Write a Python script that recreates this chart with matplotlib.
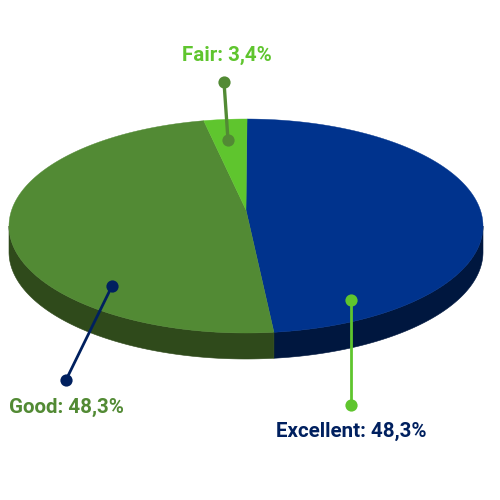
import numpy as np
import matplotlib
matplotlib.use("Agg")
import matplotlib.pyplot as plt

# data
categories = ["Excellent", "Good", "Fair"]
values = [48.3, 48.3, 3.4]
value_labels = ["48,3%", "48,3%", "3,4%"]

# styles
top_colors = {"Excellent": "#00338D", "Good": "#528A34", "Fair": "#5FC52E"}
side_colors = {"Excellent": "#00173F", "Good": "#2F4A1B", "Fair": "#3A7A1C"}
text_colors = {"Excellent": "#00205F", "Good": "#528A34", "Fair": "#5FC52E"}
line_colors = {"Excellent": "#5FC52E", "Good": "#00205F", "Fair": "#528A34"}
line_widths = {"Excellent": 2.0, "Good": 2.0, "Fair": 2.4}

CX, CY, RX, RY, DEPTH, PERSP = 246.0, 226.0, 237.0, 107.0, 26.0, -0.15
START = np.deg2rad(0.3)
K = RX * np.sqrt(1 - PERSP ** 2)


def project(theta):
    """Map clockwise-from-top pie angles to the tilted perspective disc."""
    u, v = np.sin(theta), -np.cos(theta)
    d = 1 + PERSP * v
    return CX + K * u / d, CY + RY * (v + PERSP) / d


fig = plt.figure(figsize=(5, 5), dpi=100, facecolor="white")
ax = fig.add_axes([0, 0, 1, 1])
ax.set_xlim(0, 500)
ax.set_ylim(500, 0)
ax.axis("off")

fractions = np.array(values) / np.sum(values)
edges = START + np.concatenate([[0], np.cumsum(fractions)]) * 2 * np.pi
apex_x, apex_y = CX, CY + RY * PERSP

# side walls: the near part of the rim, between the two horizontal extremes
near_a = np.arccos(PERSP)
near_b = 2 * np.pi - near_a
for name, a, b in zip(categories, edges[:-1], edges[1:]):
    lo, hi = max(a, near_a), min(b, near_b)
    if hi <= lo:
        continue
    t = np.linspace(lo, hi, 300)
    x, y = project(t)
    ax.fill(np.r_[x, x[::-1]], np.r_[y, y[::-1] + DEPTH],
            color=side_colors[name], lw=0.4, zorder=1)

# top faces
for name, a, b in zip(categories, edges[:-1], edges[1:]):
    t = np.linspace(a, b, 300)
    x, y = project(t)
    ax.fill(np.r_[apex_x, x], np.r_[apex_y, y],
            color=top_colors[name], lw=0.3, zorder=2)

# leader lines: (inner point, outer point)
leader_inner = {"Excellent": (351, 300), "Good": (112, 286), "Fair": (228, 140)}
leader_outer = {"Excellent": (351, 405), "Good": (66, 380), "Fair": (224, 82)}
for name in categories:
    (x0, y0), (x1, y1) = leader_inner[name], leader_outer[name]
    ax.plot([x0, x1], [y0, y1], color=line_colors[name], lw=line_widths[name],
            marker="o", ms=8.8, mew=0, zorder=3, solid_capstyle="round")

# labels
label_pos = {"Excellent": (276, 431, "left"), "Good": (9, 407, "left"), "Fair": (227, 55, "center")}
for name, lab in zip(categories, value_labels):
    tx, ty, ha = label_pos[name]
    ax.text(tx, ty, f"{name}: {lab}", color=text_colors[name], ha=ha, va="center",
            fontsize=14.8, fontweight="bold", family="Roboto")

fig.savefig("out.png", dpi=100, facecolor="white")
